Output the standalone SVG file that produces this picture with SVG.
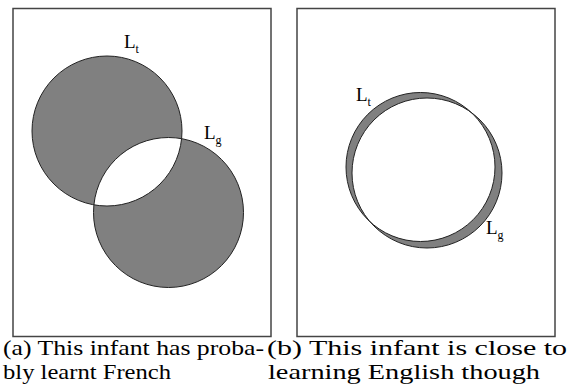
<svg xmlns="http://www.w3.org/2000/svg" width="570" height="386" viewBox="0 0 570 386">
<style>
.box{fill:#fff;stroke:#444;stroke-width:1.5}
.sets{fill:#808080;fill-rule:evenodd;stroke:#222;stroke-width:1}
.lbl{font-family:"Liberation Serif",serif;font-size:19px;fill:#000}
.sub{font-size:12px}
.cap{font-family:"Liberation Serif",serif;font-size:21.5px;fill:#000}
</style>
<rect width="570" height="386" fill="#fff"/>
<g id="panel-a">
<rect class="box" x="13" y="8.5" width="258" height="328"/>
<path class="sets" d="M32,131a75,75 0 1,0 150,0a75,75 0 1,0 -150,0Z M93.5,212.5a75,75 0 1,0 150,0a75,75 0 1,0 -150,0Z"/>
<text class="lbl" x="124" y="48">L<tspan class="sub" dy="5">t</tspan></text>
<text class="lbl" x="204" y="139">L<tspan class="sub" dy="5">g</tspan></text>
</g>
<g id="panel-b">
<rect class="box" x="297" y="8.5" width="258" height="328"/>
<path class="sets" d="M346,167a74.5,74.5 0 1,0 149,0a74.5,74.5 0 1,0 -149,0Z M352,173a75,75 0 1,0 150,0a75,75 0 1,0 -150,0Z"/>
<text class="lbl" x="356" y="101">L<tspan class="sub" dy="5">t</tspan></text>
<text class="lbl" x="486" y="234">L<tspan class="sub" dy="5">g</tspan></text>
</g>
<g id="captions">
<text class="cap" x="3" y="355" textLength="261" lengthAdjust="spacingAndGlyphs">(a) This infant has proba-</text>
<text class="cap" x="3" y="379" textLength="168" lengthAdjust="spacingAndGlyphs">bly learnt French</text>
<text class="cap" x="267" y="355" textLength="300" lengthAdjust="spacingAndGlyphs">(b) This infant is close to</text>
<text class="cap" x="268" y="379" textLength="272" lengthAdjust="spacingAndGlyphs">learning English though</text>
</g>
</svg>
